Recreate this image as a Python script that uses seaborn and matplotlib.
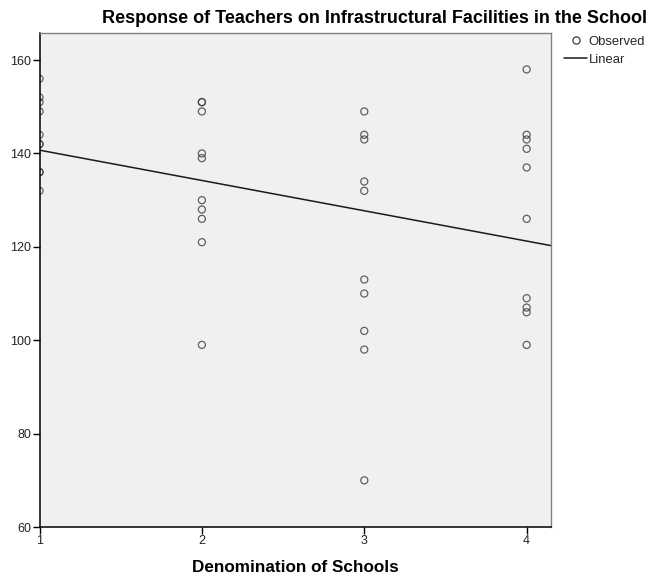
import numpy as np
import pandas as pd
import seaborn as sns
import matplotlib
matplotlib.use("Agg")
import matplotlib.pyplot as plt
from matplotlib.lines import Line2D

# Teacher response scores by school denomination (1-4)
denom_1 = [156, 152, 151, 149, 144, 142, 142, 136, 136, 132]
denom_2 = [151, 151, 149, 140, 139, 130, 128, 126, 121, 99]
denom_3 = [149, 144, 143, 134, 132, 113, 110, 102, 98, 70]
denom_4 = [158, 144, 143, 141, 137, 126, 109, 107, 106, 99]
denominations = [1, 2, 3, 4]
y_ticks = [60, 80, 100, 120, 140, 160]

groups = [denom_1, denom_2, denom_3, denom_4]
df = pd.DataFrame({
    "denomination": np.repeat(denominations, [len(g) for g in groups]),
    "response": np.concatenate(groups),
})

sns.set_theme(style="white")
plt.rcParams["font.family"] = ["Liberation Sans", "DejaVu Sans"]

fig = plt.figure(figsize=(6.51, 5.78), dpi=100)
ax = fig.add_axes([0.0607, 0.0882, 0.7857, 0.8547])
ax.set_facecolor("#f0f0f0")
ax.set_xlim(1, 4.15)
ax.set_ylim(60, 165.8)

sns.regplot(
    data=df, x="denomination", y="response", ax=ax, ci=None, truncate=False,
    scatter_kws=dict(s=26, facecolors="none", edgecolors="#3c3c3c", linewidths=0.9),
    line_kws=dict(color="#1a1a1a", linewidth=1.1),
)

ax.set_xticks(denominations)
ax.set_yticks(y_ticks)
ax.tick_params(axis="both", direction="out", length=5, width=1, color="black",
               labelsize=9, labelcolor="#222222", pad=1,
               bottom=True, left=True)
for side in ("left", "bottom"):
    ax.spines[side].set_color("black")
    ax.spines[side].set_linewidth(1.1)
for side in ("top", "right"):
    ax.spines[side].set_color("#808080")
    ax.spines[side].set_linewidth(1.0)

ax.set_ylabel("")
ax.set_xlabel("Denomination of Schools", fontsize=12.3, fontweight="bold",
              color="black", labelpad=9)
fig.text(0.994, 0.968, "Response of Teachers on Infrastructural Facilities in the School",
         ha="right", va="center", fontsize=13, fontweight="bold", color="black")

handles = [
    Line2D([], [], linestyle="none", marker="o", markersize=5.2,
           markerfacecolor="none", markeredgecolor="#3c3c3c", markeredgewidth=0.9),
    Line2D([], [], color="#1a1a1a", linewidth=1.1),
]
fig.legend(handles, ["Observed", "Linear"], loc="upper left",
           bbox_to_anchor=(0.867, 0.938), frameon=False, fontsize=9.4,
           handlelength=1.75, handletextpad=0.1, labelspacing=0.45,
           borderaxespad=0, borderpad=0)

fig.savefig("out.png", dpi=100)
